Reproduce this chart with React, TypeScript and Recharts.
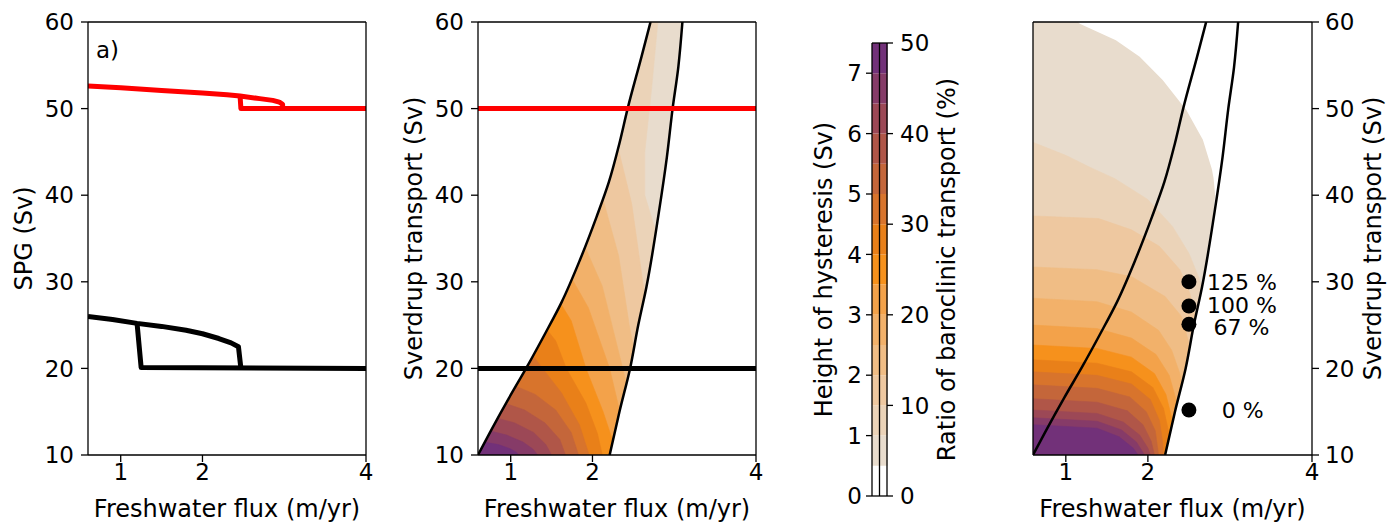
import React from "react";
import {
  ComposedChart,
  LineChart,
  Line,
  Area,
  Bar,
  Scatter,
  XAxis,
  YAxis,
  ReferenceLine,
} from "recharts";

type Pt = [number, number];

const FONT = "'DejaVu Sans', sans-serif";
const X_MIN = 0.6;
const X_MAX = 4;
const Y_MIN = 10;
const Y_MAX = 60;

const fluxTicks = [1, 2, 4];
const sverdrupTicks = [10, 20, 30, 40, 50, 60];
const hystTicks = [0, 1, 2, 3, 4, 5, 6, 7];
const ratioTicks = [0, 10, 20, 30, 40, 50];

// a) SPG strength vs freshwater flux, [flux, SPG]
const redUpper: Pt[] = [[0.6, 52.6], [1.0, 52.4], [1.5, 52.1], [2.0, 51.8], [2.3, 51.6], [2.46, 51.45], [2.7, 51.15], [2.86, 50.95], [2.94, 50.75], [2.98, 50.5], [2.98, 50.0]];
const redLower: Pt[] = [[2.46, 51.45], [2.47, 50.0], [4.0, 50.0]];
const blackUpper: Pt[] = [[0.6, 26.0], [0.9, 25.65], [1.2, 25.2], [1.5, 24.85], [1.8, 24.4], [2.0, 24.0], [2.2, 23.45], [2.35, 22.95], [2.44, 22.5], [2.47, 20.0]];
const blackLower: Pt[] = [[1.2, 25.2], [1.25, 20.1], [4.0, 20.0]];

// b) c) edges of the bistable regime, [flux, sverdrup]
const leftEdge: Pt[] = [[0.6, 10], [0.78, 13.2], [0.98, 16.6], [1.2, 20.2], [1.42, 24.0], [1.62, 27.6], [1.85, 32.6], [2.05, 37.5], [2.2, 41.5], [2.33, 46], [2.43, 50], [2.6, 56], [2.71, 60]];
const rightEdge: Pt[] = [[2.21, 10], [2.33, 15], [2.46, 20], [2.56, 25], [2.66, 29.4], [2.81, 37.9], [2.91, 44.4], [2.98, 50], [3.05, 54.8], [3.1, 60]];
const sverdrupRed = 50;
const sverdrupBlack = 20;

// colorbar: band edges (Sv) and colours
const hystLevels = [0, 0.5, 1, 1.5, 2, 2.5, 3, 3.5, 4, 4.5, 5, 5.5, 6, 6.5, 7, 7.5];
const bandColors = [
  "#ffffff", "#e8dccd", "#ebd3b8", "#eec8a0", "#f0bd85", "#f2b16a", "#f3a24a",
  "#f6911c", "#e98019", "#d8742c", "#c4663a", "#b05648", "#9c4856", "#863b68", "#723179",
];

// b) hysteresis height contours, levels 1.0 .. 7.0
const hystB10: Pt[] = [[2.8, 60], [2.72, 52], [2.64, 45], [2.64, 40], [2.8, 35]];
const hystB15: Pt[] = [[2.3, 46], [2.48, 39], [2.6, 31], [2.66, 27]];
const hystB20: Pt[] = [[2.13, 39.5], [2.32, 33], [2.45, 25], [2.53, 21]];
const hystB25: Pt[] = [[1.91, 34], [2.12, 29.5], [2.37, 20], [2.45, 17]];
const hystB30: Pt[] = [[1.74, 30.5], [1.95, 27], [2.21, 20], [2.36, 14]];
const hystB35: Pt[] = [[1.61, 27.5], [1.74, 25.5], [1.92, 20], [2.13, 15], [2.27, 11]];
const hystB40: Pt[] = [[1.44, 24.5], [1.55, 23.2], [1.68, 20], [1.92, 16], [2.06, 12.5], [2.12, 10]];
const hystB45: Pt[] = [[1.27, 21.5], [1.39, 20], [1.62, 17.2], [1.84, 13.5], [1.96, 10]];
const hystB50: Pt[] = [[1.05, 18], [1.3, 17], [1.55, 15.2], [1.74, 12.6], [1.83, 10]];
const hystB55: Pt[] = [[0.92, 16], [1.17, 15.2], [1.42, 13.7], [1.6, 11.8], [1.67, 10]];
const hystB60: Pt[] = [[0.82, 14.3], [1.05, 13.7], [1.28, 12.6], [1.43, 11.2], [1.5, 10]];
const hystB65: Pt[] = [[0.74, 12.8], [0.95, 12.3], [1.15, 11.5], [1.27, 10.7], [1.33, 10]];
const hystB70: Pt[] = [[0.67, 11.5], [0.85, 11.2], [1.0, 10.7], [1.07, 10.3], [1.1, 10]];
const hystContours = [hystB10, hystB15, hystB20, hystB25, hystB30, hystB35, hystB40, hystB45, hystB50, hystB55, hystB60, hystB65, hystB70];

// c) baroclinic ratio contours, levels 1.0 .. 7.0
const ratioC10: Pt[] = [[0.6, 46.1], [1.0, 44.6], [1.3, 43.2], [1.6, 41.9], [2.0, 39.5], [2.3, 36.4], [2.5, 33.3], [2.62, 30.5], [2.7, 28]];
const ratioC15: Pt[] = [[0.6, 37.6], [1.4, 37.3], [1.8, 36.0], [2.14, 34.1], [2.39, 31.4], [2.51, 28.7], [2.58, 26], [2.62, 24]];
const ratioC20: Pt[] = [[0.6, 31.7], [1.38, 31.4], [1.8, 30.6], [2.21, 28.3], [2.41, 26.0], [2.49, 23.3], [2.52, 21]];
const ratioC25: Pt[] = [[0.6, 28.1], [1.38, 27.7], [1.8, 26.5], [2.13, 24.4], [2.29, 22.1], [2.39, 19.4], [2.43, 17]];
const ratioC30: Pt[] = [[0.6, 25.0], [1.38, 24.6], [1.8, 23.5], [2.1, 21.6], [2.26, 19.2], [2.34, 16.5], [2.37, 14]];
const ratioC35: Pt[] = [[0.6, 22.7], [1.38, 22.3], [1.8, 21.3], [2.08, 19.4], [2.22, 17.0], [2.29, 14.3], [2.31, 12]];
const ratioC40: Pt[] = [[0.6, 21.0], [1.38, 20.6], [1.8, 19.6], [2.06, 17.8], [2.19, 15.4], [2.25, 12.8], [2.27, 10]];
const ratioC45: Pt[] = [[0.6, 19.6], [1.38, 19.2], [1.8, 18.2], [2.03, 16.4], [2.14, 14.0], [2.18, 11.5], [2.19, 10]];
const ratioC50: Pt[] = [[0.6, 18.1], [1.38, 17.7], [1.78, 16.7], [1.98, 15.0], [2.09, 12.8], [2.13, 10]];
const ratioC55: Pt[] = [[0.6, 16.5], [1.38, 16.1], [1.75, 15.1], [1.94, 13.5], [2.04, 11.6], [2.08, 10]];
const ratioC60: Pt[] = [[0.6, 15.2], [1.38, 14.8], [1.7, 13.8], [1.9, 12.3], [2.0, 10.8], [2.03, 10]];
const ratioC65: Pt[] = [[0.6, 14.3], [1.38, 13.9], [1.68, 12.9], [1.86, 11.5], [1.96, 10]];
const ratioC70: Pt[] = [[0.6, 13.5], [1.38, 13.1], [1.65, 12.1], [1.82, 10.8], [1.88, 10]];
const ratioContours = [ratioC10, ratioC15, ratioC20, ratioC25, ratioC30, ratioC35, ratioC40, ratioC45, ratioC50, ratioC55, ratioC60, ratioC65, ratioC70];

// c) right edge of the coloured field
const ratioFieldEdge: Pt[] = [[2.21, 10], [2.33, 15], [2.46, 20], [2.56, 25], [2.66, 29.4], [2.75, 35], [2.8, 38], [2.82, 40], [2.8, 42], [2.78, 43], [2.67, 46.4], [2.47, 49.8], [2.18, 53.3], [1.9, 56], [1.61, 57.9], [1.33, 59.1], [1.17, 59.8], [1.15, 60]];

// c) marked experiments and their labels
const expFlux = [2.5, 2.5, 2.5, 2.5];
const expSverdrup = [30, 27.2, 25.1, 15.2];
const expLabels = ["125 %", "100 %", "67 %", "0 %"];
const expLabelFlux = [2.72, 2.72, 2.8, 2.9];
const expLabelSverdrup = [30, 27.3, 24.8, 15.2];

// ---- helpers to build library rows ----
const xyRows = (pts: Pt[]) => pts.map(([x, y]) => ({ x, y }));
const bandRows = (pts: Pt[]) => {
  const up = [...pts].sort((a, b) => a[1] - b[1]);
  if (up[0][1] > Y_MIN) up.unshift([X_MAX, Y_MIN]);
  return up.map(([x, y]) => ({ y, x: [X_MIN, x] }));
};
const leftMask = (pts: Pt[]) => pts.map(([x, y]) => ({ y, x: [X_MIN, x] }));
const rightMask = (pts: Pt[]) => pts.map(([x, y]) => ({ y, x: [x, X_MAX] }));
const fullRows = [
  { y: Y_MIN, x: [X_MIN, X_MAX] },
  { y: Y_MAX, x: [X_MIN, X_MAX] },
];
const hLine = (v: number) => [
  { y: v, x: X_MIN },
  { y: v, x: X_MAX },
];

const tickStyle = { fill: "#000", fontSize: 23, fontFamily: FONT };
const labelStyle = { fill: "#000", fontSize: 24, fontFamily: FONT, textAnchor: "middle" as const };
const frame = { stroke: "#000", strokeWidth: 1.3 };

const xLabel = { value: "Freshwater flux (m/yr)", position: "insideBottom" as const, offset: 13, style: labelStyle };

const panelLabel = (x: number, text: string) => (
  <text x={x} y={58} fontSize={23} fontFamily={FONT} fill="#000">
    {text}
  </text>
);

const PanelA = () => (
  <LineChart width={380} height={530} margin={{ top: 21, right: 13, bottom: 0, left: 0 }}>
    <XAxis type="number" dataKey="x" domain={[X_MIN, X_MAX]} ticks={fluxTicks} allowDataOverflow height={75}
      tick={tickStyle} tickSize={7} tickMargin={2} axisLine={frame} tickLine={frame} label={xLabel} />
    <XAxis xAxisId="top" orientation="top" type="number" domain={[X_MIN, X_MAX]} allowDataOverflow height={1}
      tick={false} tickLine={false} axisLine={frame} />
    <YAxis type="number" domain={[Y_MIN, Y_MAX]} ticks={sverdrupTicks} allowDataOverflow width={88}
      tick={tickStyle} tickSize={7} tickMargin={7} axisLine={frame} tickLine={frame}
      label={{ value: "SPG (Sv)", angle: -90, position: "insideLeft", offset: 23.5, style: labelStyle }} />
    <YAxis yAxisId="right" orientation="right" type="number" domain={[Y_MIN, Y_MAX]} allowDataOverflow width={1}
      tick={false} tickLine={false} axisLine={frame} />
    <Line data={xyRows(redUpper)} dataKey="y" type="linear" stroke="#ff0000" strokeWidth={5} dot={false} isAnimationActive={false} strokeLinejoin="round" />
    <Line data={xyRows(redLower)} dataKey="y" type="linear" stroke="#ff0000" strokeWidth={5} dot={false} isAnimationActive={false} strokeLinejoin="round" />
    <Line data={xyRows(blackUpper)} dataKey="y" type="linear" stroke="#000" strokeWidth={5} dot={false} isAnimationActive={false} strokeLinejoin="round" />
    <Line data={xyRows(blackLower)} dataKey="y" type="linear" stroke="#000" strokeWidth={5} dot={false} isAnimationActive={false} strokeLinejoin="round" />
    {panelLabel(96, "a)")}
  </LineChart>
);

const PanelB = () => (
  <ComposedChart layout="vertical" width={390} height={530} margin={{ top: 21, right: 13, bottom: 0, left: 0 }}>
    <XAxis type="number" dataKey="x" domain={[X_MIN, X_MAX]} ticks={fluxTicks} allowDataOverflow height={75}
      tick={tickStyle} tickSize={7} tickMargin={2} axisLine={frame} tickLine={frame} label={xLabel} />
    <XAxis xAxisId="top" orientation="top" type="number" domain={[X_MIN, X_MAX]} allowDataOverflow height={1}
      tick={false} tickLine={false} axisLine={frame} />
    <YAxis type="number" dataKey="y" reversed domain={[Y_MIN, Y_MAX]} ticks={sverdrupTicks} allowDataOverflow width={98}
      tick={tickStyle} tickSize={7} tickMargin={7} axisLine={frame} tickLine={frame}
      label={{ value: "Sverdrup transport (Sv)", angle: -90, position: "insideLeft", offset: 33, style: labelStyle }} />
    <YAxis yAxisId="right" orientation="right" type="number" domain={[Y_MIN, Y_MAX]} allowDataOverflow width={1}
      tick={false} tickLine={false} axisLine={frame} />
    <Area data={fullRows} dataKey="x" type="linear" fill={bandColors[1]} fillOpacity={1} stroke="none" isAnimationActive={false} />
    {hystContours.map((c, i) => (
      <Area key={i} data={bandRows(c)} dataKey="x" type="linear" fill={bandColors[i + 2]} fillOpacity={1}
        stroke={bandColors[i + 2]} strokeWidth={0.6} isAnimationActive={false} />
    ))}
    <Area data={leftMask(leftEdge)} dataKey="x" type="linear" fill="#fff" fillOpacity={1} stroke="none" isAnimationActive={false} />
    <Area data={rightMask(rightEdge)} dataKey="x" type="linear" fill="#fff" fillOpacity={1} stroke="none" isAnimationActive={false} />
    <Line data={xyRows(leftEdge)} dataKey="x" type="monotone" stroke="#000" strokeWidth={2.5} dot={false} isAnimationActive={false} />
    <Line data={xyRows(rightEdge)} dataKey="x" type="monotone" stroke="#000" strokeWidth={2.5} dot={false} isAnimationActive={false} />
    <Line data={hLine(sverdrupRed)} dataKey="x" type="linear" stroke="#ff0000" strokeWidth={5} dot={false} isAnimationActive={false} />
    <Line data={hLine(sverdrupBlack)} dataKey="x" type="linear" stroke="#000" strokeWidth={5} dot={false} isAnimationActive={false} />
    {panelLabel(106, "b)")}
  </ComposedChart>
);

const cbRow: Record<string, number> = {};
bandColors.forEach((_, i) => {
  cbRow[`b${i}`] = hystLevels[i + 1] - hystLevels[i];
});
const colorbarRows = [{ side: "h", ...cbRow }, { side: "r", ...cbRow }];

const Colorbar = () => (
  <ComposedChart data={colorbarRows} width={220} height={530} margin={{ top: 42, right: 0, bottom: 0, left: 0 }}
    barCategoryGap={0} barGap={0}>
    <XAxis dataKey="side" type="category" height={34} tick={false} tickLine={false} axisLine={frame} />
    <XAxis xAxisId="top" dataKey="side" type="category" orientation="top" height={1} tick={false} tickLine={false} axisLine={frame} />
    <YAxis yAxisId="h" type="number" domain={[0, 7.5]} ticks={hystTicks} allowDataOverflow width={92}
      tick={tickStyle} tickSize={6} tickMargin={4} axisLine={frame} tickLine={frame}
      label={{ value: "Height of hysteresis (Sv)", angle: -90, position: "insideLeft", offset: 43, style: labelStyle }} />
    <YAxis yAxisId="p" orientation="right" type="number" domain={[0, 50]} ticks={ratioTicks} allowDataOverflow width={113}
      tick={tickStyle} tickSize={6} tickMargin={7} axisLine={frame} tickLine={frame}
      label={{ value: "Ratio of baroclinic transport (%)", angle: -90, position: "insideRight", offset: 54, style: labelStyle }} />
    {bandColors.map((c, i) => (
      <Bar key={i} dataKey={`b${i}`} stackId="cb" yAxisId="h" fill={c} isAnimationActive={false} />
    ))}
    <ReferenceLine x="r" position="start" yAxisId="h" stroke="#000" strokeWidth={1.3} />
  </ComposedChart>
);

const expRows = expFlux.map((x, i) => ({ x, y: expSverdrup[i] }));
const expLabelRows = expLabelFlux.map((x, i) => ({ x, y: expLabelSverdrup[i], label: expLabels[i] }));

const PanelC = () => (
  <ComposedChart layout="vertical" width={399} height={530} margin={{ top: 21, right: 0, bottom: 0, left: 32 }}>
    <XAxis type="number" dataKey="x" domain={[X_MIN, X_MAX]} ticks={fluxTicks} allowDataOverflow height={75}
      tick={tickStyle} tickSize={7} tickMargin={2} axisLine={frame} tickLine={frame} label={xLabel} />
    <XAxis xAxisId="top" orientation="top" type="number" domain={[X_MIN, X_MAX]} allowDataOverflow height={1}
      tick={false} tickLine={false} axisLine={frame} />
    <YAxis type="number" dataKey="y" reversed orientation="right" domain={[Y_MIN, Y_MAX]} ticks={sverdrupTicks} allowDataOverflow width={87}
      tick={tickStyle} tickSize={7} tickMargin={6} axisLine={frame} tickLine={frame}
      label={{ value: "Sverdrup transport (Sv)", angle: -90, position: "insideRight", offset: 27, style: labelStyle }} />
    <YAxis yAxisId="left" orientation="left" type="number" domain={[Y_MIN, Y_MAX]} allowDataOverflow width={1}
      tick={false} tickLine={false} axisLine={frame} />
    <Area data={fullRows} dataKey="x" type="linear" fill={bandColors[1]} fillOpacity={1} stroke="none" isAnimationActive={false} />
    {ratioContours.map((c, i) => (
      <Area key={i} data={bandRows(c)} dataKey="x" type="linear" fill={bandColors[i + 2]} fillOpacity={1}
        stroke={bandColors[i + 2]} strokeWidth={0.6} isAnimationActive={false} />
    ))}
    <Area data={rightMask(ratioFieldEdge)} dataKey="x" type="linear" fill="#fff" fillOpacity={1} stroke="none" isAnimationActive={false} />
    <Line data={xyRows(leftEdge)} dataKey="x" type="monotone" stroke="#000" strokeWidth={2.5} dot={false} isAnimationActive={false} />
    <Line data={xyRows(rightEdge)} dataKey="x" type="monotone" stroke="#000" strokeWidth={2.5} dot={false} isAnimationActive={false} />
    <Scatter data={expRows} fill="#000" isAnimationActive={false}
      shape={(p: any) => <circle cx={p.cx} cy={p.cy} r={7.5} fill="#000" />} />
    <Scatter data={expLabelRows} fill="#000" isAnimationActive={false}
      shape={(p: any) => (
        <text x={p.cx} y={p.cy} dy="0.36em" fontSize={22} fontFamily={FONT} fill="#000">
          {p.payload.label}
        </text>
      )} />
    {panelLabel(42, "c)")}
  </ComposedChart>
);

export default function App() {
  return (
    <div style={{ position: "absolute", left: 0, top: 0, width: 1399, height: 530, background: "#fff", fontFamily: FONT }}>
      <div style={{ position: "absolute", left: 0, top: 0 }}>
        <PanelA />
      </div>
      <div style={{ position: "absolute", left: 380, top: 0 }}>
        <PanelB />
      </div>
      <div style={{ position: "absolute", left: 780, top: 0 }}>
        <Colorbar />
      </div>
      <div style={{ position: "absolute", left: 1000, top: 0 }}>
        <PanelC />
      </div>
    </div>
  );
}
